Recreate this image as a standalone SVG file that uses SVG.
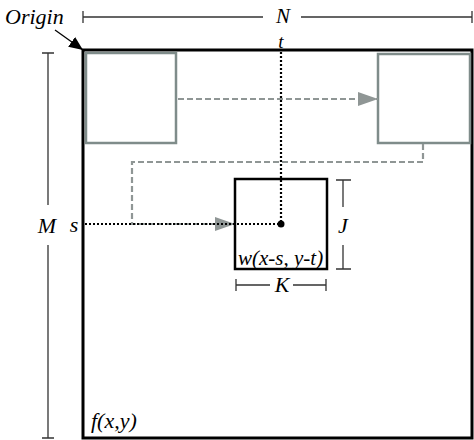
<svg xmlns="http://www.w3.org/2000/svg" width="474" height="440" viewBox="0 0 474 440">
<defs>
<style>
.lbl{font-family:"Liberation Serif",serif;font-style:italic;fill:#000;}
.dim{stroke:#333;stroke-width:1.3;fill:none;}
.gbox{fill:none;stroke:#7f8c8a;stroke-width:2.5;}
.gdash{fill:none;stroke:#8f9695;stroke-width:2.2;stroke-dasharray:6,3;}
.bdot{fill:none;stroke:#000;stroke-width:2.2;stroke-dasharray:2,2;}
</style>
<marker id="garrow" markerWidth="20" markerHeight="14" refX="20" refY="7" orient="auto" markerUnits="userSpaceOnUse">
<path d="M0,0 L20,7 L0,14 Z" fill="#8f9695"/>
</marker>
<marker id="barrow" markerWidth="14" markerHeight="12" refX="14" refY="6" orient="auto" markerUnits="userSpaceOnUse">
<path d="M0,0 L14,6 L0,12 Z" fill="#000"/>
</marker>
</defs>
<rect width="474" height="440" fill="#fff"/>

<g id="frame">
<rect x="83" y="50" width="389" height="388" fill="none" stroke="#000" stroke-width="3"/>
<text class="lbl" x="91" y="428" font-size="22">f(x,y)</text>
</g>

<g id="box-topleft"><rect class="gbox" x="86" y="53" width="90" height="90"/></g>
<g id="box-topright"><rect class="gbox" x="378" y="54" width="92" height="89"/></g>
<g id="box-window">
<rect x="235" y="179" width="92" height="90" fill="none" stroke="#000" stroke-width="2.5"/>
<text class="lbl" x="238" y="265" font-size="21">w(x-s, y-t)</text>
</g>

<g id="connectors">
<line class="gdash" x1="178" y1="99" x2="378" y2="99" marker-end="url(#garrow)"/>
<polyline class="gdash" points="423,144 423,162 132,162 132,224 235,224" marker-end="url(#garrow)"/>
<line class="bdot" x1="85" y1="224" x2="281" y2="224"/>
<line class="bdot" x1="281" y1="52" x2="281" y2="224"/>
<circle cx="281" cy="224" r="3.5" fill="#000"/>
<line x1="55" y1="30" x2="83" y2="50" stroke="#000" stroke-width="1.3" marker-end="url(#barrow)"/>
</g>

<g id="dim-N">
<path class="dim" d="M83,11 V23 M83,17 H263 M301,17 H472 M472,11 V23"/>
<text class="lbl" x="283" y="23" font-size="21" text-anchor="middle">N</text>
</g>
<g id="dim-M">
<path class="dim" d="M42,53 H54 M48,53 V205 M48,245 V438 M42,438 H54"/>
<text class="lbl" x="47" y="233" font-size="22" text-anchor="middle">M</text>
</g>
<g id="dim-J">
<path class="dim" d="M336,180 H351 M343,180 V207 M343,245 V269 M336,269 H351"/>
<text class="lbl" x="343" y="233" font-size="22" text-anchor="middle">J</text>
</g>
<g id="dim-K">
<path class="dim" d="M236,279 V291 M236,285 H270 M293,285 H326 M326,279 V291"/>
<text class="lbl" x="282" y="292" font-size="22" text-anchor="middle">K</text>
</g>

<text class="lbl" x="5" y="24" font-size="22">Origin</text>
<text class="lbl" x="281" y="48" font-size="19" text-anchor="middle">t</text>
<text class="lbl" x="74" y="232" font-size="22" text-anchor="middle">s</text>
</svg>
